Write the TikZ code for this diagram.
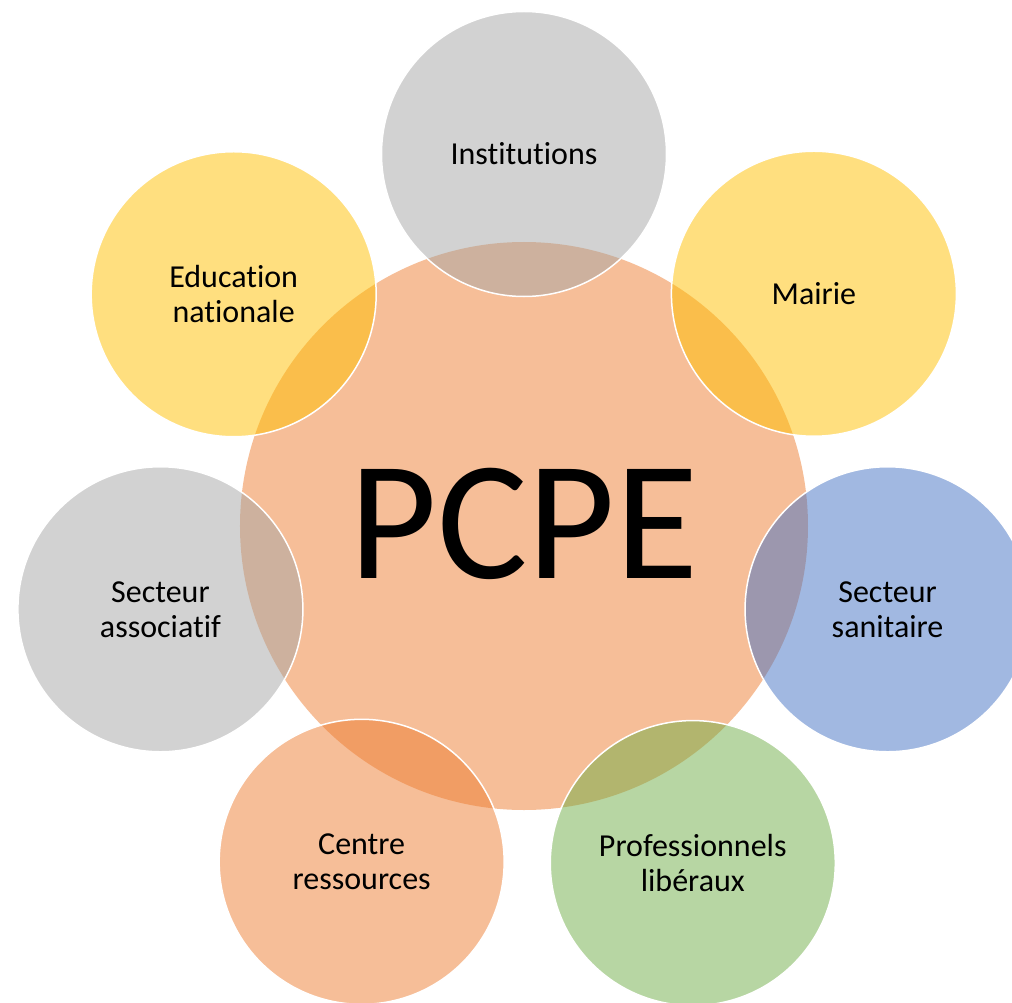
\documentclass[tikz,border=0pt]{standalone}
\usepackage{fontspec}
\setmainfont{Carlito}[Ligatures=NoCommon]
\definecolor{accorange}{HTML}{ED7D31}
\definecolor{accgray}{HTML}{A5A5A5}
\definecolor{accyellow}{HTML}{FFC000}
\definecolor{accblue}{HTML}{4472C4}
\definecolor{accgreen}{HTML}{70AD47}
\tikzset{
    hub/.style={circle, minimum size=568pt, inner sep=0pt, fill=accorange, fill opacity=0.5, text opacity=1, font=\fontsize{170}{170}\selectfont},
    petal/.style={circle, minimum size=285pt, inner sep=0pt, draw=white, line width=1.5pt, draw opacity=1, fill opacity=0.5, text opacity=1, align=center, font=\fontsize{32}{35}\selectfont}
}
\begin{document}
\begin{tikzpicture}[x=1pt, y=1pt]
                            \useasboundingbox (-524,-476) rectangle (488,526);
                            \node[hub] (pcpe) at (0,0) {\raisebox{5.5pt}{PCPE}};
                            \node[petal, fill=accgray] (inst) at (90:372) {Institutions};
                            \node[petal, fill=accyellow] (mairie) at (38.7:371.5) {Mairie};
                            \node[petal, fill=accblue] (sanit) at (-12.9:373) {Secteur\\sanitaire};
                            \node[petal, fill=accgreen] (prof) at (-63.4:377) {Professionnels\\libéraux};
                            \node[petal, fill=accorange] (centre) at (244.2:373) {Centre\\ressources};
                            \node[petal, fill=accgray] (assoc) at (192.9:373) {Secteur\\associatif};
                            \node[petal, fill=accyellow] (educ) at (141.4:371.5) {Education\\nationale};
                        \end{tikzpicture}
\end{document}
